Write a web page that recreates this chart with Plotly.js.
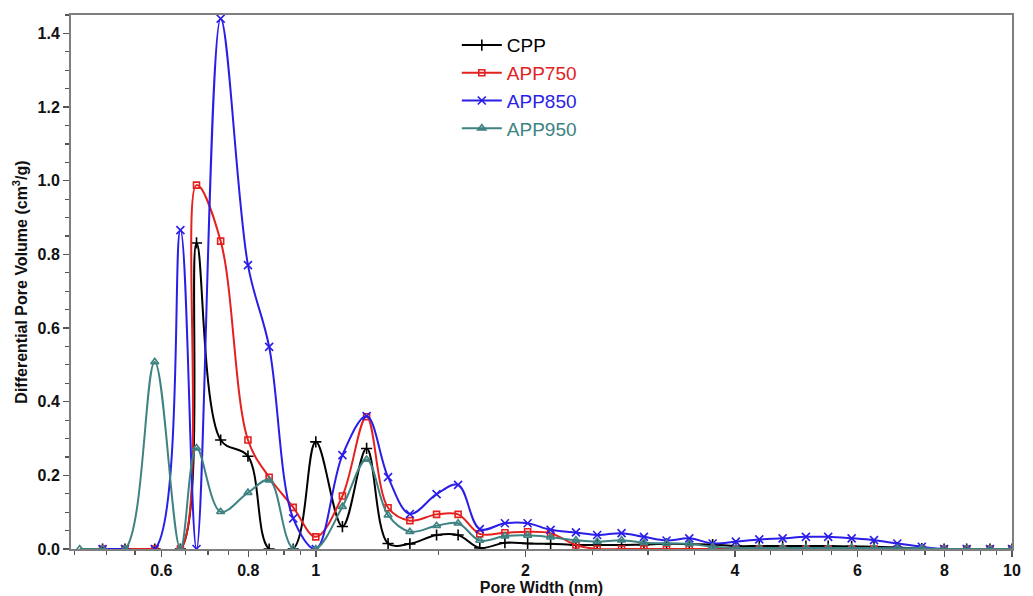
<!DOCTYPE html>
<html>
<head>
<meta charset="utf-8">
<script src="https://cdn.plot.ly/plotly-3.0.1.min.js"></script>
<style>html,body{margin:0;padding:0;background:#fff;}#chart{width:1033px;height:596px;}</style>
</head>
<body>
<div id="chart"></div>
<script>
// Pore width grid (nm)
const poreWidth = [0.458, 0.494, 0.532, 0.587, 0.639, 0.674, 0.730, 0.799, 0.857, 0.928,
  1.000, 1.092, 1.183, 1.270, 1.365, 1.491, 1.601, 1.720, 1.869, 2.015,
  2.174, 2.364, 2.536, 2.749, 2.960, 3.190, 3.439, 3.715, 4.012, 4.335,
  4.683, 5.058, 5.445, 5.884, 6.336, 6.843, 7.420, 7.989, 8.608, 9.298, 10.0];

const cpp = [null, 0, 0, 0, 0, 0.831, 0.296, 0.252, 0, 0,
  0.291, 0.061, 0.273, 0.015, 0.014, 0.038, 0.038, 0.003, 0.017, 0.015,
  0.014, 0.011, 0.011, 0.011, 0.012, 0.014, 0.013, 0.012, 0.008, 0.008,
  0.008, 0.008, 0.008, 0.007, 0.006, 0.004, 0.001, 0, 0, 0, 0];

const app750 = [null, 0, 0, 0, 0, 0.988, 0.836, 0.296, 0.195, 0.113,
  0.033, 0.144, 0.359, 0.112, 0.077, 0.094, 0.094, 0.041, 0.044, 0.047,
  0.043, 0.011, 0, 0, 0, 0, 0, 0, 0, 0,
  0, 0, 0, 0, 0, 0, 0, 0, 0, 0, 0];

const app850 = [null, 0, 0, 0, 0.866, 0, 1.44, 0.771, 0.549, 0.083,
  0, 0.255, 0.361, 0.195, 0.095, 0.149, 0.174, 0.054, 0.070, 0.070,
  0.052, 0.045, 0.038, 0.043, 0.033, 0.023, 0.029, 0.015, 0.020, 0.026,
  0.029, 0.033, 0.033, 0.029, 0.024, 0.015, 0.006, 0, 0, 0, 0];

const app950 = [0, 0, 0, 0.508, 0, 0.274, 0.101, 0.153, 0.187, 0,
  0, 0.115, 0.243, 0.092, 0.047, 0.063, 0.070, 0.023, 0.035, 0.037,
  0.032, 0.024, 0.020, 0.024, 0.017, 0.015, 0.014, 0.006, 0.003, 0.003,
  0.003, 0.003, 0.003, 0.003, 0.003, 0.002, 0.002, 0, 0, 0, 0];

const seriesNames = ['CPP', 'APP750', 'APP850', 'APP950'];
const xTickVals = [0.6, 0.8, 1, 2, 4, 6, 8, 10];
const xTickText = ['0.6', '0.8', '1', '2', '4', '6', '8', '10'];
const xMinorVals = [0.45, 0.5, 0.55, 0.65, 0.7, 0.75, 0.85, 0.9, 0.95, 1.5, 2.5, 3, 3.5, 4.5, 5, 5.5, 6.5, 7, 7.5, 8.5, 9, 9.5];

const colors = ['#000000', '#e3211f', '#2a1ee6', '#3e8282'];
const symbols = ['cross-thin-open', 'square-open', 'x-thin-open', 'triangle-up-open'];
const sizes = [8, 6, 8, 7];
const values = [cpp, app750, app850, app950];

const traces = values.map((v, i) => ({
  x: poreWidth,
  y: v,
  type: 'scatter',
  mode: 'lines+markers',
  name: '<span style="color:' + colors[i] + '">' + seriesNames[i] + '</span>',
  line: {color: colors[i], width: 2, shape: 'spline', smoothing: 1},
  marker: {symbol: symbols[i], size: sizes[i], color: colors[i], line: {color: colors[i], width: 1.6}},
  connectgaps: false
}));

const tickFont = {family: 'Liberation Sans, Arial, sans-serif', size: 16, color: '#111', weight: 'bold'};

const layout = {
  width: 1033, height: 596,
  margin: {l: 71, r: 21, t: 15, b: 47},
  paper_bgcolor: '#fff', plot_bgcolor: '#fff',
  showlegend: true,
  legend: {
    x: 0.41, y: 0.979, xanchor: 'left', yanchor: 'top',
    bgcolor: 'rgba(0,0,0,0)', borderwidth: 0,
    font: {family: 'Liberation Sans, Arial, sans-serif', size: 19},
    itemwidth: 40,
    tracegroupgap: 0
  },
  xaxis: {
    type: 'log',
    range: [Math.log10(0.445), 1],
    tickmode: 'array', tickvals: xTickVals, ticktext: xTickText,
    ticks: 'outside', ticklen: 6, tickwidth: 1.5, tickcolor: '#555',
    minor: {tickmode: 'array', tickvals: xMinorVals, ticks: 'outside', ticklen: 4, tickwidth: 1.2, tickcolor: '#555', showgrid: false},
    showline: true, linecolor: '#7f7f7f', linewidth: 2, mirror: true,
    showgrid: false, zeroline: false,
    tickfont: tickFont,
    title: {text: 'Pore Width (nm)', font: tickFont, standoff: 4}
  },
  yaxis: {
    range: [0, 1.45],
    tickmode: 'linear', tick0: 0, dtick: 0.2, tickformat: '.1f',
    ticks: 'outside', ticklen: 6, tickwidth: 1.5, tickcolor: '#555',
    minor: {dtick: 0.05, ticks: 'outside', ticklen: 4, tickwidth: 1.2, tickcolor: '#555', showgrid: false},
    showline: true, linecolor: '#7f7f7f', linewidth: 2, mirror: true,
    showgrid: false, zeroline: false,
    tickfont: tickFont,
    title: {text: 'Differential Pore Volume (cm<sup>3</sup>/g)', font: tickFont, standoff: 6}
  }
};

Plotly.newPlot('chart', traces, layout, {displayModeBar: false, staticPlot: true});
</script>
</body>
</html>
